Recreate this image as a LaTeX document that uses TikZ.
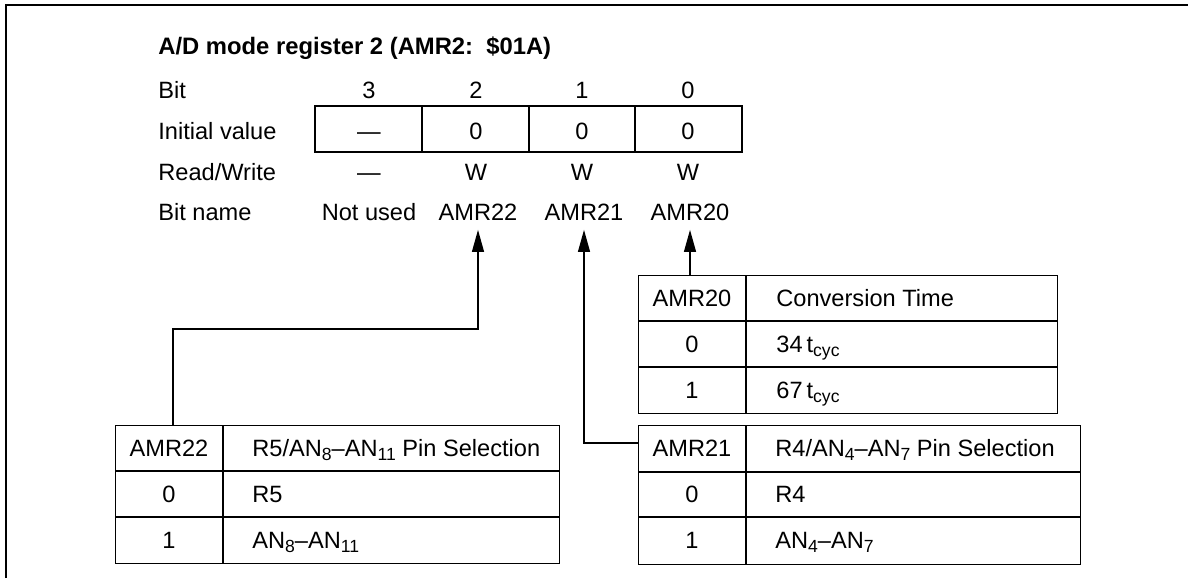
\documentclass[tikz,border=0pt]{standalone}
\usepackage{fontspec}
\setmainfont{Liberation Sans}
\usetikzlibrary{arrows.meta,positioning}

\newcommand\lowsub[1]{\raisebox{-0.35ex}{\fontsize{8.8}{10}\selectfont #1}}

\tikzset{
  lbl/.style={inner sep=0pt, text height=8.5pt, text depth=0pt},
  tline/.style={line width=0.6pt},
  tabframe/.style={draw, line width=0.6pt, inner sep=0pt, anchor=north west},
  bitarrow/.style={->, line width=0.6pt, shorten >=4.5pt}
}

\begin{document}
\begin{tikzpicture}[x=0.5pt,y=-0.5pt,>={Triangle[length=11pt,width=6pt]},
  font=\fontsize{11.8}{14}\selectfont]
\useasboundingbox (0,0) rectangle (1188,578);
% frame
\draw[line width=1pt] (6,578) -- (6,5) -- (1188,5);
% title and row labels
\node[lbl,anchor=west,font=\fontsize{11.9}{14}\selectfont\bfseries] (title) at (158,46) {A/D mode register 2 (AMR2:\ \ \$01A)};
\node[lbl,anchor=west] (rbit) at (158,90) {Bit};
\node[lbl,anchor=west] (rinit) at (158,131) {Initial value};
\node[lbl,anchor=west] (rrw) at (158,172) {Read/Write};
\node[lbl,anchor=west] (rname) at (158,212) {Bit name};
% register
\draw[tline] (315,106) rectangle (742,152);
\foreach \x in {422,529,635} \draw[tline] (\x,106) -- (\x,152);
\foreach \x/\b/\i/\w in {369/3/—/—, 476/2/0/W, 582/1/0/W, 688/0/0/W} {
  \node[lbl] (bit\b) at (\x,90) {\b};
  \node[lbl] (init\b) at (\x,131) {\i};
  \node[lbl] (rw\b) at (\x,172) {\w};
}
\node[lbl] (n23) at (369,212) {Not used};
\node[lbl] (n22) at (478,212) {AMR22};
\node[lbl] (n21) at (584,212) {AMR21};
\node[lbl] (n20) at (690,212) {AMR20};

% AMR20 table
\node[tabframe, minimum width=209.5pt, minimum height=69pt] (tab20) at (638,275) {};
\draw[tline] (746,275) -- (746,413);
\draw[tline] (638,321) -- (1057,321);
\draw[tline] (638,367) -- (1057,367);
\node[lbl] (h20) at (692,298) {AMR20};
\node[lbl,anchor=west] (d20) at (776,298) {Conversion Time};
\node[lbl] (v20a) at (692,344) {0};
\node[lbl,anchor=west] (t20a) at (776,344) {34\,t\lowsub{cyc}};
\node[lbl] (v20b) at (692,390) {1};
\node[lbl,anchor=west] (t20b) at (776,390) {67\,t\lowsub{cyc}};

% AMR22 table
\node[tabframe, minimum width=222pt, minimum height=69pt] (tab22) at (115,425) {};
\draw[tline] (223,425) -- (223,563);
\draw[tline] (115,471) -- (559,471);
\draw[tline] (115,517) -- (559,517);
\node[lbl] (h22) at (169,448) {AMR22};
\node[lbl,anchor=west] (d22) at (252,448) {R5/AN\lowsub{8}–AN\lowsub{11} Pin Selection};
\node[lbl] (v22a) at (169,494) {0};
\node[lbl,anchor=west] (t22a) at (252,494) {R5};
\node[lbl] (v22b) at (169,540) {1};
\node[lbl,anchor=west] (t22b) at (252,540) {AN\lowsub{8}–AN\lowsub{11}};

% AMR21 table
\node[tabframe, minimum width=221pt, minimum height=69.5pt] (tab21) at (638,425) {};
\draw[tline] (746,425) -- (746,564);
\draw[tline] (638,472) -- (1080,472);
\draw[tline] (638,517) -- (1080,517);
\node[lbl] (h21) at (692,448) {AMR21};
\node[lbl,anchor=west] (d21) at (775,448) {R4/AN\lowsub{4}–AN\lowsub{7} Pin Selection};
\node[lbl] (v21a) at (692,494) {0};
\node[lbl,anchor=west] (t21a) at (775,494) {R4};
\node[lbl] (v21b) at (692,540) {1};
\node[lbl,anchor=west] (t21b) at (775,540) {AN\lowsub{4}–AN\lowsub{7}};

% connectors
\coordinate (k22) at (173,329);
\coordinate (k21) at (584,443);
\draw[bitarrow] (k22 |- tab22.north) -- (k22) -| (n22.south);
\draw[bitarrow] (k21 -| tab21.west) -- (k21) -- (k21 |- n21.south);
\draw[bitarrow] (n20.south |- tab20.north) -- (n20.south);
\end{tikzpicture}
\end{document}
